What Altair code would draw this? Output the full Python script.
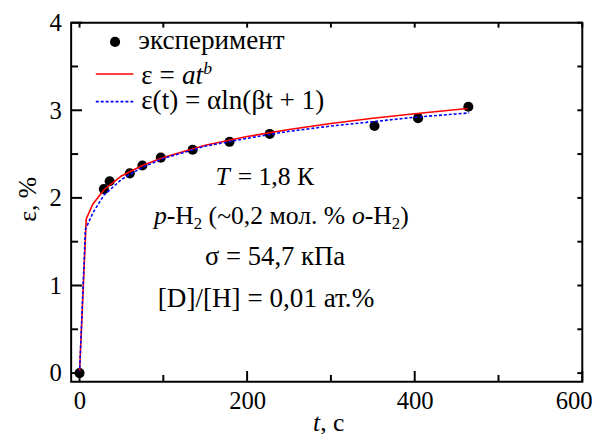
import altair as alt
import pandas as pd

# ---------------- data ----------------
t_exp = [0, 29, 36, 60, 75, 97, 135, 179, 227, 352, 404, 464]
eps_exp = [0.0, 2.10, 2.19, 2.28, 2.37, 2.46, 2.55, 2.64, 2.73, 2.82, 2.91, 3.04]

# power-law fit  eps = a t^b  (red)
t_pow = [0, 8, 16, 29, 50, 75, 100, 150, 200, 250, 300, 350, 400, 463]
eps_pow = [0.0, 1.76, 1.93, 2.09, 2.25, 2.37, 2.46, 2.60, 2.70, 2.78, 2.85, 2.91, 2.96, 3.02]

# log fit  eps = alpha ln(beta t + 1)  (blue dashed)
t_log = [0, 7, 16, 29, 50, 75, 100, 150, 200, 250, 300, 350, 400, 465]
eps_log = [0.0, 1.64, 1.83, 2.03, 2.21, 2.35, 2.45, 2.59, 2.68, 2.76, 2.82, 2.87, 2.92, 2.97]

x_labels = [0, 200, 400, 600]
x_minor = [100, 300, 500]
x_all = [0, 100, 200, 300, 400, 500, 600]
y_labels = [0, 1, 2, 3, 4]
y_minor = [0.5, 1.5, 2.5, 3.5]
y_all = [0, 0.5, 1, 1.5, 2, 2.5, 3, 3.5, 4]

# ---------------- layout ----------------
W, H = 518, 364
FONT = "Liberation Serif"
FS = 26
LFS = 27.5
xs = alt.Scale(domain=[-10, 600], nice=False, zero=False)
ys = alt.Scale(domain=[-0.1, 4], nice=False, zero=False)
xax = alt.Axis(values=x_labels, ticks=False, domain=False, grid=False,
               labelFont=FONT, labelFontSize=25, labelColor="black",
               labelPadding=7, labelFlush=True, labelFlushOffset=10, title=None)
yax = alt.Axis(values=y_labels, ticks=False, domain=False, grid=False,
               labelFont=FONT, labelFontSize=25, labelColor="black",
               labelPadding=10, title=None)
X = alt.X("t:Q", scale=xs, axis=xax)
Y = alt.Y("eps:Q", scale=ys, axis=yax)

df_exp = pd.DataFrame({"t": t_exp, "eps": eps_exp})
df_pow = pd.DataFrame({"t": t_pow, "eps": eps_pow})
df_log = pd.DataFrame({"t": t_log, "eps": eps_log})

points = alt.Chart(df_exp).mark_circle(size=105, color="black", opacity=1).encode(x=X, y=Y)
red = alt.Chart(df_pow).mark_line(color="#ff0000", strokeWidth=1.6).encode(x=X, y=Y)
blue = alt.Chart(df_log).mark_line(color="#0000ff", strokeWidth=1.6, strokeDash=[3, 2]).encode(x=X, y=Y)


def xtick(vals, y0, y1):
    return alt.Chart(pd.DataFrame({"t": vals})).mark_rule(color="black", strokeWidth=2).encode(
        x=X, y=alt.value(y0), y2=alt.value(y1))


def ytick(vals, x0, x1):
    return alt.Chart(pd.DataFrame({"eps": vals})).mark_rule(color="black", strokeWidth=2).encode(
        y=Y, x=alt.value(x0), x2=alt.value(x1))


ticks = [
    xtick(x_labels, H, H - 11), xtick(x_minor, H, H - 7), xtick(x_all, 0, 5),
    ytick(y_labels, 0, 11), ytick(y_minor, 0, 7), ytick(y_all, W, W - 5),
]

# ---------------- text annotations (mixed styles) ----------------
WID = {' ': .25, ',': .25, '.': .25, '-': .333, '=': .564, '+': .564, '(': .333, ')': .333,
       '[': .333, ']': .333, '/': .278, '~': .541, '%': .833, 'T': .611, 'К': .722, 'H': .722,
       'D': .722, 'м': .63, 'о': .5, 'л': .5, 'к': .5, 'П': .722, 'а': .444, 'т': .444,
       'σ': .55, 'ε': .44, 'p': .5, 'o': .5, 'a': .5, 't': .278, 'b': .5, 'c': .444,
       'α': .53, 'β': .5, 'l': .278, 'n': .5}


def tw(s, size):
    return sum(WID.get(c, .5) for c in s) * size


def line(segs, base, x0=None, cx=None):
    total = sum(tw(s, sz) for s, it, sz, dy in segs)
    x = x0 if x0 is not None else cx - total / 2
    rows = []
    for s, it, sz, dy in segs:
        if s.strip():
            rows.append(dict(x=x, y=base + dy, text=s, size=sz, it=it))
        x += tw(s, sz)
    return rows


rows = []
rows += line([("эксперимент", False, LFS, 0)], 27, x0=68)
rows += line([("ε =", False, LFS, 0), (" ", False, LFS, 0), ("at", True, LFS, 0), ("b", True, 18, -10)], 62, x0=71)
rows += line([("ε(t) = αln(βt + 1)", False, LFS, 0)], 87, x0=71)
rows += line([("T", True, FS, 0), (" ", False, FS, 0), ("= 1,8 К", False, FS, 0)], 164, cx=197)
rows += line([("p", True, FS, 0), ("-H", False, FS, 0), ("2", False, 17, 5), (" ", False, FS, 0),
              ("(~0,2 мол. %", False, FS, 0), (" ", False, FS, 0), ("o", True, FS, 0),
              ("-H", False, FS, 0), ("2", False, 17, 5), (")", False, FS, 0)], 204, cx=213)
rows += line([("σ = 54,7 кПа", False, 27, 0)], 246, cx=207)
rows += line([("[D]/[H] = 0,01 ат.%", False, 27.5, 0)], 288, cx=199)
rows += line([("t", True, FS, 0), (",", False, FS, 0), (" ", False, FS, 0), ("c", False, FS, 0)], 414, cx=261)
ann = pd.DataFrame(rows)


def text_layer(italic):
    props = dict(align="left", baseline="alphabetic", font=FONT, color="black")
    if italic:
        props["fontStyle"] = "italic"
    return alt.Chart(ann[ann.it == italic]).mark_text(**props).encode(
        x=alt.X("x:Q", scale=None, axis=None), y=alt.Y("y:Q", scale=None, axis=None),
        text="text:N", size=alt.Size("size:Q", scale=None, legend=None))


# legend symbols
leg_pt = alt.Chart(pd.DataFrame({"k": [0]})).mark_circle(size=105, color="black", opacity=1).encode(
    x=alt.value(44.5), y=alt.value(19.5))
leg_red = alt.Chart(pd.DataFrame({"k": [0]})).mark_rule(color="#ff0000", strokeWidth=1.6).encode(
    x=alt.value(25), x2=alt.value(63), y=alt.value(52))
leg_blue = alt.Chart(pd.DataFrame({"k": [0]})).mark_rule(color="#0000ff", strokeWidth=1.6,
                                                         strokeDash=[3, 2]).encode(
    x=alt.value(25), x2=alt.value(63), y=alt.value(80))

ytitle = alt.Chart(pd.DataFrame({"s": ["ε, %"]})).mark_text(
    align="center", baseline="middle", angle=270, font=FONT, fontSize=FS, color="black").encode(
    x=alt.value(-44), y=alt.value(179), text="s:N")

chart = alt.layer(
    points, red, blue, *ticks, leg_pt, leg_red, leg_blue,
    text_layer(False), text_layer(True), ytitle,
).properties(
    width=W, height=H,
    autosize=alt.AutoSizeParams(type="none"),
    padding={"left": 64, "top": 12, "right": 22, "bottom": 52},
    background="white",
).configure_view(stroke="black", strokeWidth=2)

chart.save("out.html", embed_options={"renderer": "svg", "actions": False})
